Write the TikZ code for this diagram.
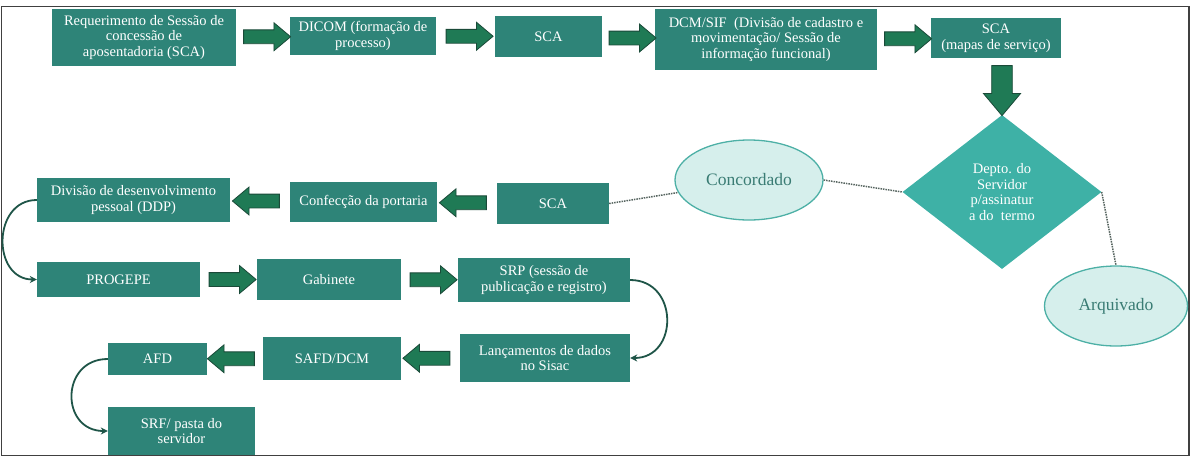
\documentclass[tikz,border=0pt]{standalone}
\usepackage{fontspec}
\setmainfont{Liberation Serif}
\usepackage{xcolor}
\usepackage{tikz}
\usetikzlibrary{arrows.meta,positioning,calc,shapes.geometric,shapes.arrows}
\definecolor{boxteal}{HTML}{2E8478}
\definecolor{arrowgreen}{HTML}{1F7A55}
\definecolor{arrowline}{HTML}{1A4A38}
\definecolor{diamteal}{HTML}{3EB1A6}
\definecolor{ovalfill}{HTML}{D6EFEC}
\definecolor{ovalline}{HTML}{4DB0A6}
\definecolor{ovaltext}{HTML}{3A7C74}
\definecolor{curvegreen}{HTML}{1F5548}
\definecolor{dotgray}{HTML}{56645F}
\definecolor{framegray}{HTML}{404040}
\tikzset{
  font=\fontsize{14.5}{15.5}\selectfont,
  >={Stealth[length=7pt,width=7pt]},
  box/.style={
    fill=boxteal, text=white, align=center, inner sep=3pt
  },
  decision/.style={
    diamond, fill=diamteal, text=white, align=center, inner sep=0pt,
    minimum width=199pt, minimum height=154pt
  },
  oval/.style={
    ellipse, draw=ovalline, line width=1.3pt, fill=ovalfill, text=ovaltext,
    font=\fontsize{17.5}{20}\selectfont, minimum height=80pt
  },
  blockarrow/.style={
    single arrow, draw=arrowline, line width=0.8pt, fill=arrowgreen,
    single arrow tip angle=80, inner sep=6.5pt, minimum width=26pt,
    minimum height=47pt
  },
  rightblock/.style={blockarrow},
  leftblock/.style={blockarrow, shape border rotate=180},
  downblock/.style={blockarrow, shape border rotate=270, inner sep=8.5pt,
    minimum width=37pt, minimum height=50pt},
  handover/.style={->, line width=1.8pt, draw=curvegreen},
  dotline/.style={line width=1.5pt, draw=dotgray, densely dotted},
  frame/.style={draw=framegray, line width=1.4pt}
}

\begin{document}
\begin{tikzpicture}[x=1pt,y=-1pt]
  \useasboundingbox (0,0) rectangle (1192,461);
  \draw[frame] (1.5,6.5) rectangle (1189,455.5);

  % first row
  \node[box, minimum width=184pt, minimum height=57pt] (req)    at (144,37.5) {Requerimento de Sessão de\\concessão de\\aposentadoria (SCA)};
  \node[box, minimum width=146pt, minimum height=38pt] (dicom)  at (363,36)   {DICOM (formação de\\processo)};
  \node[box, minimum width=107pt, minimum height=41pt] (sca)    at (548.5,36.5) {SCA};
  \node[box, minimum width=222pt, minimum height=61pt] (dcm)    at (766,39.5) {DCM/SIF\ \ (Divisão de cadastro e\\movimentação/ Sessão de\\informação funcional)};
  \node[box, minimum width=130pt, minimum height=40pt] (scamap) at (996,38)   {SCA\\(mapas de serviço)};

  % decision and outcomes
  \node[decision] (depto) at (1002,192) {Depto. do\\Servidor\\p/assinatur\\a do\ \ termo};
  \node[oval, minimum width=148pt] (concord) at (749,180)  {Concordado};
  \node[oval, minimum width=143pt] (arq)     at (1116,306) {Arquivado};

  % second row
  \node[box, minimum width=193pt, minimum height=44pt] (ddp)     at (133.5,200) {Divisão de desenvolvimento\\pessoal (DDP)};
  \node[box, minimum width=147pt, minimum height=40pt] (confec)  at (363.5,202) {Confecção da portaria};
  \node[box, minimum width=112pt, minimum height=41pt] (scaport) at (553,203.5) {SCA};

  % third row
  \node[box, minimum width=163pt, minimum height=35pt] (progepe) at (118.5,279.5) {PROGEPE};
  \node[box, minimum width=144pt, minimum height=41pt] (gab)     at (329,279.5)   {Gabinete};
  \node[box, minimum width=172pt, minimum height=44pt] (srp)     at (544,280)     {SRP (sessão de\\publicação e registro)};

  % fourth and fifth row
  \node[box, minimum width=99pt,  minimum height=32pt] (afd)  at (157.5,359) {AFD};
  \node[box, minimum width=138pt, minimum height=43pt] (safd) at (332,358.5) {SAFD/DCM};
  \node[box, minimum width=170pt, minimum height=48pt] (lanc) at (545,358)   {Lançamentos de dados\\no Sisac};
  \node[box, minimum width=147pt, minimum height=48pt] (srf)  at (181.5,431) {SRF/ pasta do\\servidor};

  % block arrows between the boxes
  \node[rightblock] (a1) at ($(req.east)!0.5!(dicom.west)$) {};
  \node[rightblock] (a2) at ($(dicom.east)!0.5!(sca.west)$) {};
  \node[rightblock] (a3) at ($(sca.east)!0.5!(dcm.west)$) {};
  \node[rightblock] (a4) at ($(dcm.east)!0.5!(scamap.west)$) {};
  \node[downblock]  (a5) at ($(scamap.south)!0.5!(depto.north)+(3,-2)$) {};
  \node[leftblock]  (a6) at ($(scaport.west)!0.5!(confec.east)$) {};
  \node[leftblock]  (a7) at ($(confec.west)!0.5!(ddp.east)$) {};
  \node[rightblock] (a8) at ($(progepe.east)!0.5!(gab.west)$) {};
  \node[rightblock] (a9) at ($(gab.east)!0.5!(srp.west)$) {};
  \node[leftblock]  (a10) at ($(lanc.west)!0.5!(safd.east)$) {};
  \node[leftblock]  (a11) at ($(safd.west)!0.5!(afd.east)$) {};

  % dotted links of the decision
  \draw[dotline] (scaport.east) -- (concord.190);
  \draw[dotline] (concord.east) -- (depto.west);
  \draw[dotline] (depto.east) -- (arq.north);

  % curved hand-overs
  \draw[handover] (ddp.west) to[out=180,in=180,looseness=1.45] (progepe.west);
  \draw[handover] (srp.east) to[out=0,in=0,looseness=1.6] (lanc.east);
  \draw[handover] (afd.west) to[out=180,in=180,looseness=1.7] (srf.west);
\end{tikzpicture}
\end{document}
